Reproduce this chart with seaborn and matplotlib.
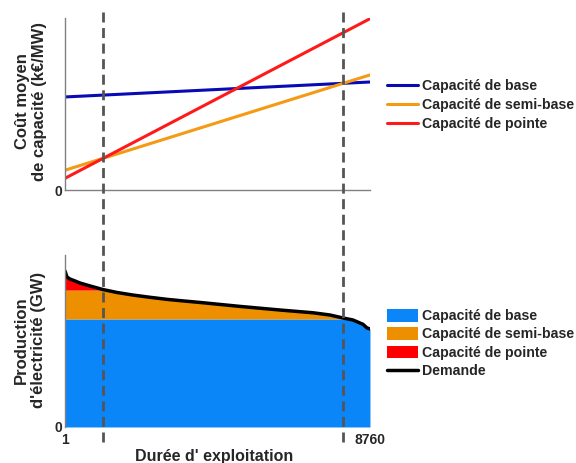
import numpy as np
import pandas as pd
import matplotlib
matplotlib.use("Agg")
import matplotlib.pyplot as plt
import seaborn as sns
from matplotlib.lines import Line2D

# DATA

hours_span = [1, 8760]
labels_cost = ["Capacité de base", "Capacité de semi-base", "Capacité de pointe"]
cost_base = [54.1, 62.8]
cost_semi = [11.5, 66.9]
cost_peak = [6.8, 99.6]

demand_hours = [1, 58, 145, 288, 432, 719, 1092, 1494, 1954, 2442, 2930,
                3390, 3878, 5027, 6176, 7124, 7612, 7956, 8272, 8559, 8674,
                8760]
demand_gw = [90.7, 87.2, 86.0, 84.9, 83.7, 82.0, 79.9, 78.2, 76.7, 75.4, 74.2,
             73.3, 72.4, 70.1, 68.0, 66.4, 65.1, 63.5, 62.2, 59.7, 57.6,
             57.0]
base_cap = 62.8
semi_cap = 79.6

line_colors = ["#0a0ab4", "#f59a12", "#ff1a1a"]
fill_colors = ["#0a86f8", "#ee8f00", "#ff0000"]

# STYLE

sns.set_style("white")
plt.rcParams["font.family"] = ["Liberation Sans", "DejaVu Sans"]
plt.rcParams["font.weight"] = "bold"

fig = plt.figure(figsize=(5.76, 4.63), dpi=100)
ax_top = fig.add_axes([0.1128, 0.5896, 0.5295, 0.3715])
ax_bot = fig.add_axes([0.1128, 0.0778, 0.5295, 0.3715])

# TOP: average cost lines

cost_df = pd.DataFrame({
    "heures": hours_span * 3,
    "cout": cost_base + cost_semi + cost_peak,
    "type": [labels_cost[0]] * 2 + [labels_cost[1]] * 2 + [labels_cost[2]] * 2,
})
sns.lineplot(data=cost_df, x="heures", y="cout", hue="type",
             palette=line_colors, linewidth=2.2, ax=ax_top)
ax_top.set_xlim(hours_span)
ax_top.set_ylim(0, 100)
ax_top.set_xlabel("")
ax_top.set_ylabel("")
ax_top.set_yticks([0])
ax_top.set_yticklabels(["0"], fontsize=10, fontweight="bold")
ax_top.set_xticks([hours_span[1]])
ax_top.set_xticklabels([""])
ax_top.tick_params(axis="x", direction="in", length=3, color="#808080")
ax_top.tick_params(axis="y", length=0, pad=2)
for s in ["top", "right"]:
    ax_top.spines[s].set_visible(False)
for s in ["left", "bottom"]:
    ax_top.spines[s].set_color("#808080")
    ax_top.spines[s].set_linewidth(1)

ax_top.legend(loc="upper left", bbox_to_anchor=(0.672, 0.829),
              bbox_transform=fig.transFigure, frameon=False,
              borderaxespad=0, borderpad=0, handlelength=2.2,
              handletextpad=0.3, labelspacing=0.35,
              prop={"size": 10.2, "weight": "bold"})
ax_top.text(-0.111, 0.517, "Coût moyen\nde capacité (k€/MW)",
            transform=ax_top.transAxes, rotation=90, ha="center",
            va="center", multialignment="center", fontsize=12,
            fontweight="bold")

# BOTTOM: load duration curve

x = np.array(demand_hours)
d = np.array(demand_gw)
base_part = np.minimum(d, base_cap)
semi_part = np.minimum(d, semi_cap)
ax_bot.fill_between(x, 0, base_part, color=fill_colors[0], linewidth=0,
                    label="Capacité de base")
ax_bot.fill_between(x, base_part, semi_part, color=fill_colors[1],
                    linewidth=0, label="Capacité de semi-base")
ax_bot.fill_between(x, semi_part, d, color=fill_colors[2], linewidth=0,
                    label="Capacité de pointe")
sns.lineplot(x=x, y=d, color="black", linewidth=2.5, label="Demande",
             ax=ax_bot)
ax_bot.set_xlim(hours_span)
ax_bot.set_ylim(0, 100)
ax_bot.set_yticks([0])
ax_bot.set_yticklabels(["0"], fontsize=10, fontweight="bold")
ax_bot.set_xticks(hours_span)
ax_bot.set_xticklabels([str(h) for h in hours_span], fontsize=10,
                       fontweight="bold")
ax_bot.tick_params(axis="both", length=0)
ax_bot.tick_params(axis="x", pad=4)
ax_bot.tick_params(axis="y", pad=2)
for s in ["top", "right", "bottom"]:
    ax_bot.spines[s].set_visible(False)
ax_bot.spines["left"].set_color("#808080")
ax_bot.spines["left"].set_linewidth(1)

ax_bot.legend(loc="upper left", bbox_to_anchor=(0.672, 0.333),
              bbox_transform=fig.transFigure, frameon=False,
              borderaxespad=0, borderpad=0, handlelength=2.2,
              handleheight=1.0, handletextpad=0.3, labelspacing=0.3,
              prop={"size": 10.2, "weight": "bold"})
ax_bot.text(-0.115, 0.506, "Production\nd'électricité (GW)",
            transform=ax_bot.transAxes, rotation=90, ha="center",
            va="center", multialignment="center", fontsize=12,
            fontweight="bold")
fig.text(0.372, 0.015, "Durée d' exploitation", ha="center", va="center",
         fontsize=11.5, fontweight="bold")


# DASHED LINES at cost curve intersections

def crossing(a, b):
    # hour where two straight cost lines meet
    t = (b[0] - a[0]) / ((a[1] - a[0]) - (b[1] - b[0]))
    return hours_span[0] + t * (hours_span[1] - hours_span[0])


for hx in [crossing(cost_semi, cost_peak), crossing(cost_base, cost_semi)]:
    fx = fig.transFigure.inverted().transform(
        ax_top.transData.transform((hx, 0)))[0]
    fig.add_artist(Line2D([fx, fx], [0.974, 0.043], color="#555555",
                          linewidth=2, linestyle=(0, (3.6, 2)),
                          transform=fig.transFigure))

fig.savefig("out.png", dpi=100)
